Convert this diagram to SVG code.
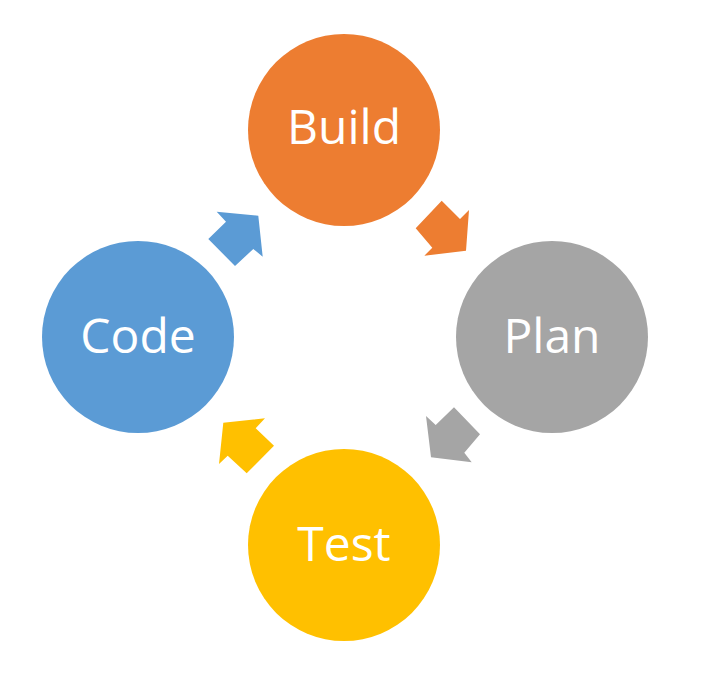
<svg xmlns="http://www.w3.org/2000/svg" width="712" height="675" viewBox="0 0 712 675">
<style>
.lbl{font-family:"Open Sans","Liberation Sans",sans-serif;font-size:48px;fill:#FFFFFF;text-anchor:middle}
</style>
<rect width="712" height="675" fill="#FFFFFF"/>
<g id="connectors">
<polygon fill="#5B9BD5" points="216.7,211.7 258.3,215.7 262.7,256.7 253.3,249 235,266 208.3,239 226,221.7"/>
<polygon fill="#ED7D31" points="441.7,200.7 460,219 469,210 466,250.7 424.3,255.7 432.3,247.7 415.7,228.3"/>
<polygon fill="#A5A5A5" points="454,407.3 480,434.3 464.3,452.7 471.7,462.3 431,457.3 426,416 435.7,425"/>
<polygon fill="#FFC000" points="265,418.3 223.3,422.7 219,464 227.7,455.7 246.7,473.3 274,445.7 255.7,428.3"/>
</g>
<g id="build">
<circle cx="344" cy="130" r="96" fill="#ED7D31"/>
<text class="lbl" x="344" y="144">Build</text>
</g>
<g id="plan">
<circle cx="552" cy="337" r="96" fill="#A5A5A5"/>
<text class="lbl" x="552" y="353">Plan</text>
</g>
<g id="test">
<circle cx="344" cy="545" r="96" fill="#FFC000"/>
<text class="lbl" x="344" y="561">Test</text>
</g>
<g id="code">
<circle cx="138" cy="337" r="96" fill="#5B9BD5"/>
<text class="lbl" x="138" y="353">Code</text>
</g>
</svg>
